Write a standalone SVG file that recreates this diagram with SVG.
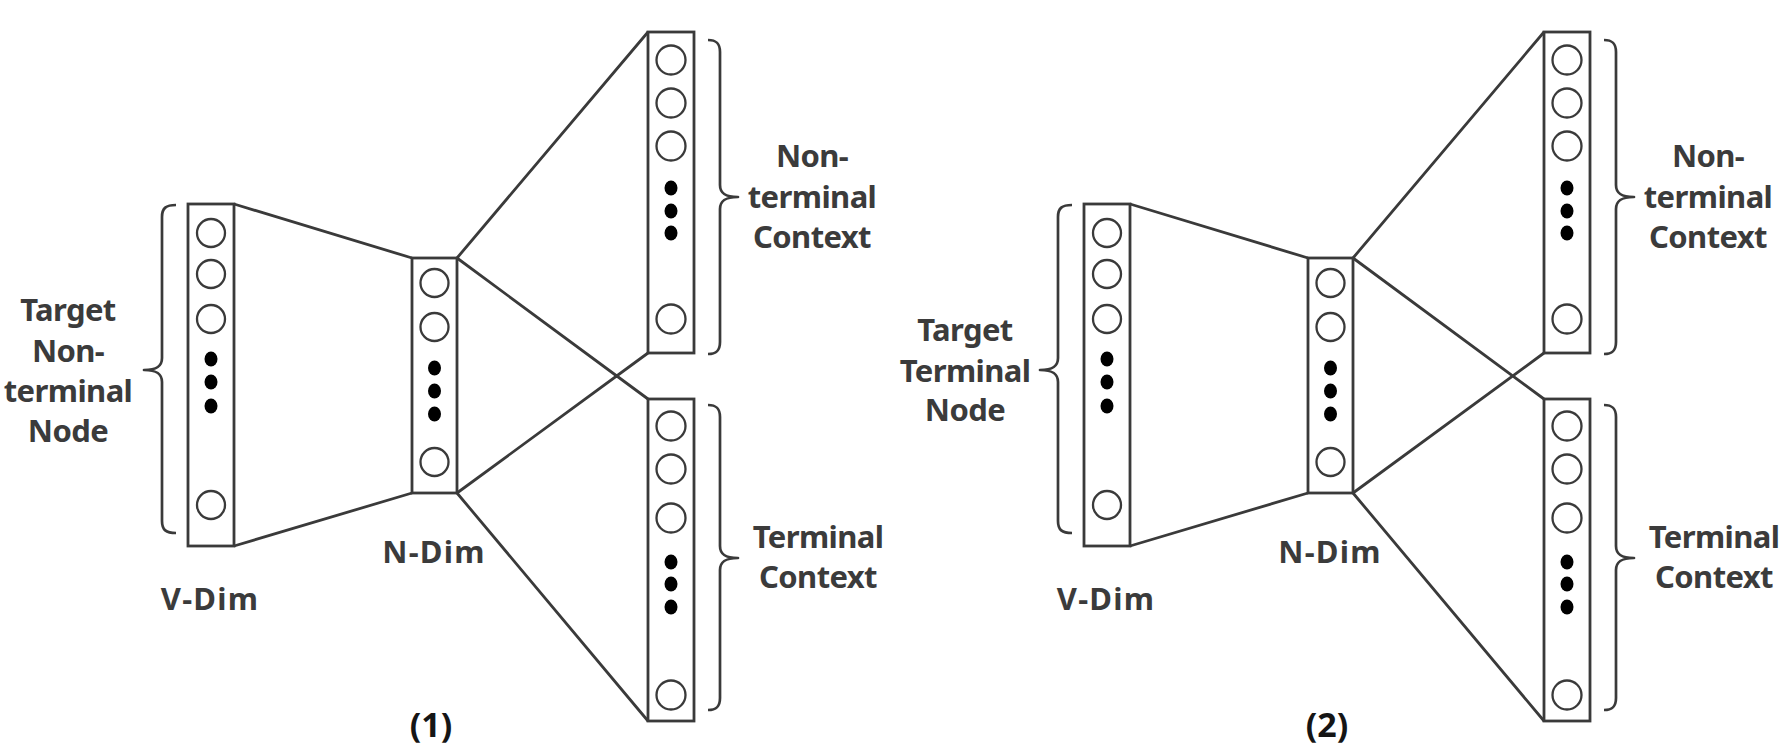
<svg xmlns="http://www.w3.org/2000/svg" width="1788" height="754" viewBox="0 0 1788 754">
<style>
.col{fill:#fff;stroke:#3a3a3a;stroke-width:2.8}
.unit{fill:none;stroke:#3a3a3a;stroke-width:2.3}
.dot{fill:#000}
.con{stroke:#3a3a3a;stroke-width:2.8;fill:none}
.brace{fill:none;stroke:#3a3a3a;stroke-width:2.7;stroke-linejoin:round}
.lbl{font-family:"Noto Sans","Open Sans","Liberation Sans",sans-serif;font-weight:700;font-size:31px;letter-spacing:-0.6px;fill:#3b3b3b;text-anchor:middle}
.dim{letter-spacing:1.2px}
.num{font-family:"Noto Sans","Liberation Sans",sans-serif;font-weight:700;font-size:34px;fill:#151515;text-anchor:middle}
</style>
<rect width="1788" height="754" fill="#fff"/>

<g id="connectors">
<path class="con" d="M234,204 L412,258 M234,546 L412,493 M457,258 L648,32 M457,258 L648,399 M457,493 L648,353 M457,493 L648,721"/>
<path class="con" d="M1130,204 L1308,258 M1130,546 L1308,493 M1353,258 L1544,32 M1353,258 L1544,399 M1353,493 L1544,353 M1353,493 L1544,721"/>
</g>

<!-- Panel 1 -->
<g id="p1-vdim">
<rect class="col" x="188" y="204" width="46" height="342"/>
<circle class="unit" cx="211" cy="233" r="14"/>
<circle class="unit" cx="211" cy="274" r="14"/>
<circle class="unit" cx="211" cy="319" r="14"/>
<ellipse class="dot" cx="211" cy="359" rx="6.5" ry="7.5"/>
<ellipse class="dot" cx="211" cy="382" rx="6.5" ry="7.5"/>
<ellipse class="dot" cx="211" cy="406" rx="6.5" ry="7.5"/>
<circle class="unit" cx="211" cy="505" r="14"/>
<path class="brace" d="M176,205 C166,205 162,208 162,217 L162,358 C162,366 157,370 144,370 C157,370 162,374 162,382 L162,521 C162,530 166,533 176,533"/>
<text class="lbl" x="68" y="321">Target</text>
<text class="lbl" x="68" y="362">Non-</text>
<text class="lbl" x="68" y="402">terminal</text>
<text class="lbl" x="68" y="442">Node</text>
<text class="lbl dim" x="210" y="610">V-Dim</text>
</g>

<g id="p1-ndim">
<rect class="col" x="412" y="258" width="45" height="235"/>
<circle class="unit" cx="434.5" cy="283" r="14"/>
<circle class="unit" cx="434.5" cy="327" r="14"/>
<ellipse class="dot" cx="434.5" cy="368" rx="6.5" ry="7.5"/>
<ellipse class="dot" cx="434.5" cy="391" rx="6.5" ry="7.5"/>
<ellipse class="dot" cx="434.5" cy="414" rx="6.5" ry="7.5"/>
<circle class="unit" cx="434.5" cy="462" r="14"/>
<text class="lbl dim" x="434" y="563">N-Dim</text>
</g>

<g id="p1-nonterminal-context">
<rect class="col" x="648" y="32" width="46" height="321"/>
<circle class="unit" cx="671" cy="60" r="14.5"/>
<circle class="unit" cx="671" cy="103" r="14.5"/>
<circle class="unit" cx="671" cy="146" r="14.5"/>
<ellipse class="dot" cx="671" cy="188" rx="6.5" ry="7.5"/>
<ellipse class="dot" cx="671" cy="211" rx="6.5" ry="7.5"/>
<ellipse class="dot" cx="671" cy="233" rx="6.5" ry="7.5"/>
<circle class="unit" cx="671" cy="319" r="14.5"/>
<path class="brace" d="M708,40 C716,40 720,43 720,52 L720,185 C720,193 725,197 738,197 C725,197 720,201 720,209 L720,342 C720,351 716,354 708,354"/>
<text class="lbl" x="812" y="167">Non-</text>
<text class="lbl" x="812" y="208">terminal</text>
<text class="lbl" x="812" y="248">Context</text>
</g>

<g id="p1-terminal-context">
<rect class="col" x="648" y="399" width="46" height="322"/>
<circle class="unit" cx="671" cy="426" r="14.5"/>
<circle class="unit" cx="671" cy="469" r="14.5"/>
<circle class="unit" cx="671" cy="518" r="14.5"/>
<ellipse class="dot" cx="671" cy="562" rx="6.5" ry="7.5"/>
<ellipse class="dot" cx="671" cy="584" rx="6.5" ry="7.5"/>
<ellipse class="dot" cx="671" cy="607" rx="6.5" ry="7.5"/>
<circle class="unit" cx="671" cy="695" r="14.5"/>
<path class="brace" d="M708,405 C716,405 720,408 720,417 L720,546 C720,554 725,558 738,558 C725,558 720,562 720,570 L720,698 C720,707 716,710 708,710"/>
<text class="lbl" x="818" y="548">Terminal</text>
<text class="lbl" x="818" y="588">Context</text>
</g>

<g id="p1-caption">
<text class="num" x="431" y="737">(1)</text>
</g>

<!-- Panel 2 -->
<g id="p2-vdim">
<rect class="col" x="1084" y="204" width="46" height="342"/>
<circle class="unit" cx="1107" cy="233" r="14"/>
<circle class="unit" cx="1107" cy="274" r="14"/>
<circle class="unit" cx="1107" cy="319" r="14"/>
<ellipse class="dot" cx="1107" cy="359" rx="6.5" ry="7.5"/>
<ellipse class="dot" cx="1107" cy="382" rx="6.5" ry="7.5"/>
<ellipse class="dot" cx="1107" cy="406" rx="6.5" ry="7.5"/>
<circle class="unit" cx="1107" cy="505" r="14"/>
<path class="brace" d="M1072,205 C1062,205 1058,208 1058,217 L1058,358 C1058,366 1053,370 1040,370 C1053,370 1058,374 1058,382 L1058,521 C1058,530 1062,533 1072,533"/>
<text class="lbl" x="965" y="341">Target</text>
<text class="lbl" x="965" y="382">Terminal</text>
<text class="lbl" x="965" y="421">Node</text>
<text class="lbl dim" x="1106" y="610">V-Dim</text>
</g>

<g id="p2-ndim">
<rect class="col" x="1308" y="258" width="45" height="235"/>
<circle class="unit" cx="1330.5" cy="283" r="14"/>
<circle class="unit" cx="1330.5" cy="327" r="14"/>
<ellipse class="dot" cx="1330.5" cy="368" rx="6.5" ry="7.5"/>
<ellipse class="dot" cx="1330.5" cy="391" rx="6.5" ry="7.5"/>
<ellipse class="dot" cx="1330.5" cy="414" rx="6.5" ry="7.5"/>
<circle class="unit" cx="1330.5" cy="462" r="14"/>
<text class="lbl dim" x="1330" y="563">N-Dim</text>
</g>

<g id="p2-nonterminal-context">
<rect class="col" x="1544" y="32" width="46" height="321"/>
<circle class="unit" cx="1567" cy="60" r="14.5"/>
<circle class="unit" cx="1567" cy="103" r="14.5"/>
<circle class="unit" cx="1567" cy="146" r="14.5"/>
<ellipse class="dot" cx="1567" cy="188" rx="6.5" ry="7.5"/>
<ellipse class="dot" cx="1567" cy="211" rx="6.5" ry="7.5"/>
<ellipse class="dot" cx="1567" cy="233" rx="6.5" ry="7.5"/>
<circle class="unit" cx="1567" cy="319" r="14.5"/>
<path class="brace" d="M1604,40 C1612,40 1616,43 1616,52 L1616,185 C1616,193 1621,197 1634,197 C1621,197 1616,201 1616,209 L1616,342 C1616,351 1612,354 1604,354"/>
<text class="lbl" x="1708" y="167">Non-</text>
<text class="lbl" x="1708" y="208">terminal</text>
<text class="lbl" x="1708" y="248">Context</text>
</g>

<g id="p2-terminal-context">
<rect class="col" x="1544" y="399" width="46" height="322"/>
<circle class="unit" cx="1567" cy="426" r="14.5"/>
<circle class="unit" cx="1567" cy="469" r="14.5"/>
<circle class="unit" cx="1567" cy="518" r="14.5"/>
<ellipse class="dot" cx="1567" cy="562" rx="6.5" ry="7.5"/>
<ellipse class="dot" cx="1567" cy="584" rx="6.5" ry="7.5"/>
<ellipse class="dot" cx="1567" cy="607" rx="6.5" ry="7.5"/>
<circle class="unit" cx="1567" cy="695" r="14.5"/>
<path class="brace" d="M1604,405 C1612,405 1616,408 1616,417 L1616,546 C1616,554 1621,558 1634,558 C1621,558 1616,562 1616,570 L1616,698 C1616,707 1612,710 1604,710"/>
<text class="lbl" x="1714" y="548">Terminal</text>
<text class="lbl" x="1714" y="588">Context</text>
</g>

<g id="p2-caption">
<text class="num" x="1327" y="737">(2)</text>
</g>
</svg>
